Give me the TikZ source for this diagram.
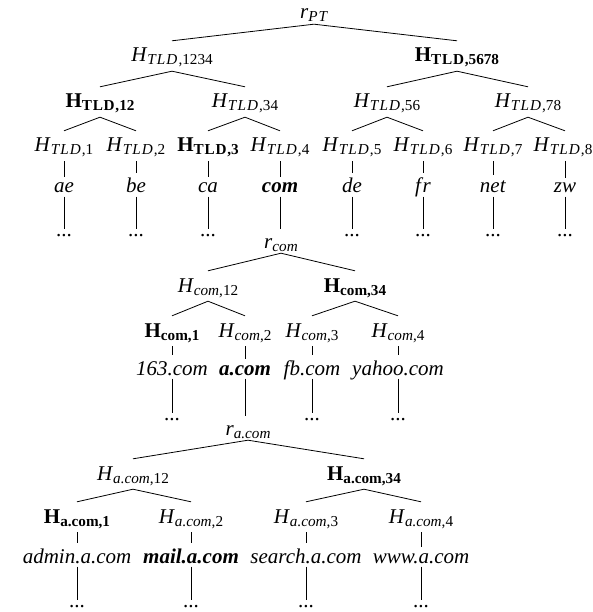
\documentclass[tikz,border=0pt]{standalone}
\usepackage{fontspec}
\setmainfont{Liberation Serif}
% subscript: smaller, slightly lowered
\newcommand\sbx[1]{\raisebox{-3pt}{\fontsize{15.2}{17}\selectfont #1}}
\newcommand\Hit[2]{\textit{H}\sbx{\textit{#1},#2}}
\newcommand\Hbf[2]{\textbf{H\sbx{#1,#2}}}
\newcommand\Rit[1]{\textit{r}\sbx{\textit{#1}}}
% spaced capitals, as math sets them
\newcommand\TLDi{T\kern1.1pt L\kern1.1pt D\kern1.1pt}
\newcommand\TLDb{T\kern0.8pt L\kern0.8pt D\kern0.8pt}
\begin{document}
\begin{tikzpicture}[x=1pt,y=-1pt,
  every node/.style={font=\fontsize{21}{24}\selectfont, anchor=base, inner xsep=0pt},
  hn/.style={text height=16pt, text depth=4pt, inner ysep=5pt},
  rn/.style={text height=14pt, text depth=0pt, inner ysep=5pt},
  lf/.style={text depth=0pt, inner ysep=5.5pt},
  dt/.style={text height=2pt, text depth=0pt, inner ysep=5pt},
  ln/.style={line width=0.8pt}]
\useasboundingbox (0,0) rectangle (593,612);

% ---------- top-level domains ----------
\node[rn] (rPT) at (314,19) {\textit{r}\sbx{\textit{P\kern1pt T}}};
\node[hn] (t1234) at (172,62) {\Hit{\TLDi}{1234}};
\node[hn] (t5678) at (457,62) {\Hbf{\TLDb}{5678}};
\node[hn] (t12) at (100,108) {\Hbf{\TLDb}{12}};
\node[hn] (t34) at (245,108) {\Hit{\TLDi}{34}};
\node[hn] (t56) at (387,108) {\Hit{\TLDi}{56}};
\node[hn] (t78) at (528,108) {\Hit{\TLDi}{78}};
\node[hn] (t1) at (64,152) {\Hit{\TLDi}{1}};
\node[hn] (t2) at (136,152) {\Hit{\TLDi}{2}};
\node[hn] (t3) at (208,152) {\Hbf{\TLDb}{3}};
\node[hn] (t4) at (280,152) {\Hit{\TLDi}{4}};
\node[hn] (t5) at (352,152) {\Hit{\TLDi}{5}};
\node[hn] (t6) at (423,152) {\Hit{\TLDi}{6}};
\node[hn] (t7) at (493,152) {\Hit{\TLDi}{7}};
\node[hn] (t8) at (563,152) {\Hit{\TLDi}{8}};
\coordinate (t8s) at (565,161);
\node[lf] (ae) at (64,193) {\textit{ae}};
\node[lf] (be) at (136,193) {\textit{be}};
\node[lf] (ca) at (208,193) {\textit{ca}};
\node[lf] (com) at (280,193) {\textbf{\textit{com}}};
\node[lf] (de) at (352,193) {\textit{de}};
\node[lf] (fr) at (423,193) {\textit{f\kern1.5pt r}};
\node[lf] (net) at (493,193) {\textit{net}};
\node[lf] (zw) at (565,193) {\textit{zw}};
\foreach \n/\x in {ae/64,be/136,ca/208,de/352,fr/423,net/493,zw/565}
  \node[dt] (d\n) at (\x,236) {...};

\draw[ln] (t1234.north) -- (rPT.south) -- (t5678.north);
\draw[ln] (t12.north) -- (t1234.south) -- (t34.north);
\draw[ln] (t56.north) -- (t5678.south) -- (t78.north);
\draw[ln] (t1.north) -- (t12.south) -- (t2.north);
\draw[ln] (t3.north) -- (t34.south) -- (t4.north);
\draw[ln] (t5.north) -- (t56.south) -- (t6.north);
\draw[ln] (t7.north) -- (t78.south) -- (t8.north -| t8s);
\foreach \h/\l in {t1/ae,t2/be,t3/ca,t4/com,t5/de,t6/fr,t7/net}
  \draw[ln] (\h.south) -- (\l.north);
\draw[ln] (t8s) -- (zw.north);
\foreach \l in {ae,be,ca,de,fr,net,zw}
  \draw[ln] ([yshift=2pt]\l.south) -- (d\l.north);

% ---------- second-level domains under com ----------
\node[rn] (rcom) at (281,248) {\Rit{com}};
\node[hn] (c12) at (208,292) {\Hit{com}{12}};
\node[hn] (c34) at (355,292) {\Hbf{com}{34}};
\node[hn] (c1) at (172,337) {\Hbf{com}{1}};
\node[hn] (c2) at (245,337) {\Hit{com}{2}};
\node[hn] (c3) at (312,337) {\Hit{com}{3}};
\node[hn] (c4) at (398,337) {\Hit{com}{4}};
\node[lf] (s163) at (172,375) {\textit{163.com}};
\node[lf] (acom) at (245,375) {\textbf{\textit{a.com}}};
\node[lf] (fb) at (312,375) {\textit{fb.com}};
\node[lf] (yahoo) at (398,375) {\textit{yahoo.com}};
\foreach \n/\x in {s163/172,fb/312,yahoo/398}
  \node[dt] (d\n) at (\x,420) {...};

\draw[ln] ([yshift=2pt]com.south) -- (com.south |- rcom.north);
\draw[ln] (c12.north) -- (rcom.south) -- (c34.north);
\draw[ln] (c1.north) -- (c12.south) -- (c2.north);
\draw[ln] (c3.north) -- (c34.south) -- (c4.north);
\foreach \h/\l in {c1/s163,c2/acom,c3/fb,c4/yahoo}
  \draw[ln] (\h.south) -- (\l.north);
\foreach \l in {s163,fb,yahoo}
  \draw[ln] ([yshift=2pt]\l.south) -- (d\l.north);

% ---------- host names under a.com ----------
\node[rn] (ra) at (248,435) {\Rit{a.com}};
\node[hn] (a12) at (133,480) {\Hit{a.com}{12}};
\node[hn] (a34) at (364,480) {\Hbf{a.com}{34}};
\node[hn] (a1) at (77,523) {\Hbf{a.com}{1}};
\node[hn] (a2) at (191,523) {\Hit{a.com}{2}};
\node[hn] (a3) at (306,523) {\Hit{a.com}{3}};
\node[hn] (a4) at (421,523) {\Hit{a.com}{4}};
\node[lf] (admin) at (77,563) {\textit{admin.a.com}};
\node[lf] (mail) at (191,563) {\textbf{\textit{mail.a.com}}};
\node[lf] (search) at (306,563) {\textit{search.a.com}};
\node[lf] (www) at (421,563) {\textit{www.a.com}};
\foreach \n/\x in {admin/77,mail/191,search/306,www/421}
  \node[dt] (d\n) at (\x,607) {...};

\draw[ln] ([yshift=2pt]acom.south) -- (acom.south |- ra.north);
\draw[ln] (a12.north) -- (ra.south) -- (a34.north);
\draw[ln] (a1.north) -- (a12.south) -- (a2.north);
\draw[ln] (a3.north) -- (a34.south) -- (a4.north);
\foreach \h/\l in {a1/admin,a2/mail,a3/search,a4/www}
  \draw[ln] (\h.south) -- (\l.north);
\foreach \l in {admin,mail,search,www}
  \draw[ln] ([yshift=2pt]\l.south) -- (d\l.north);
\end{tikzpicture}
\end{document}
